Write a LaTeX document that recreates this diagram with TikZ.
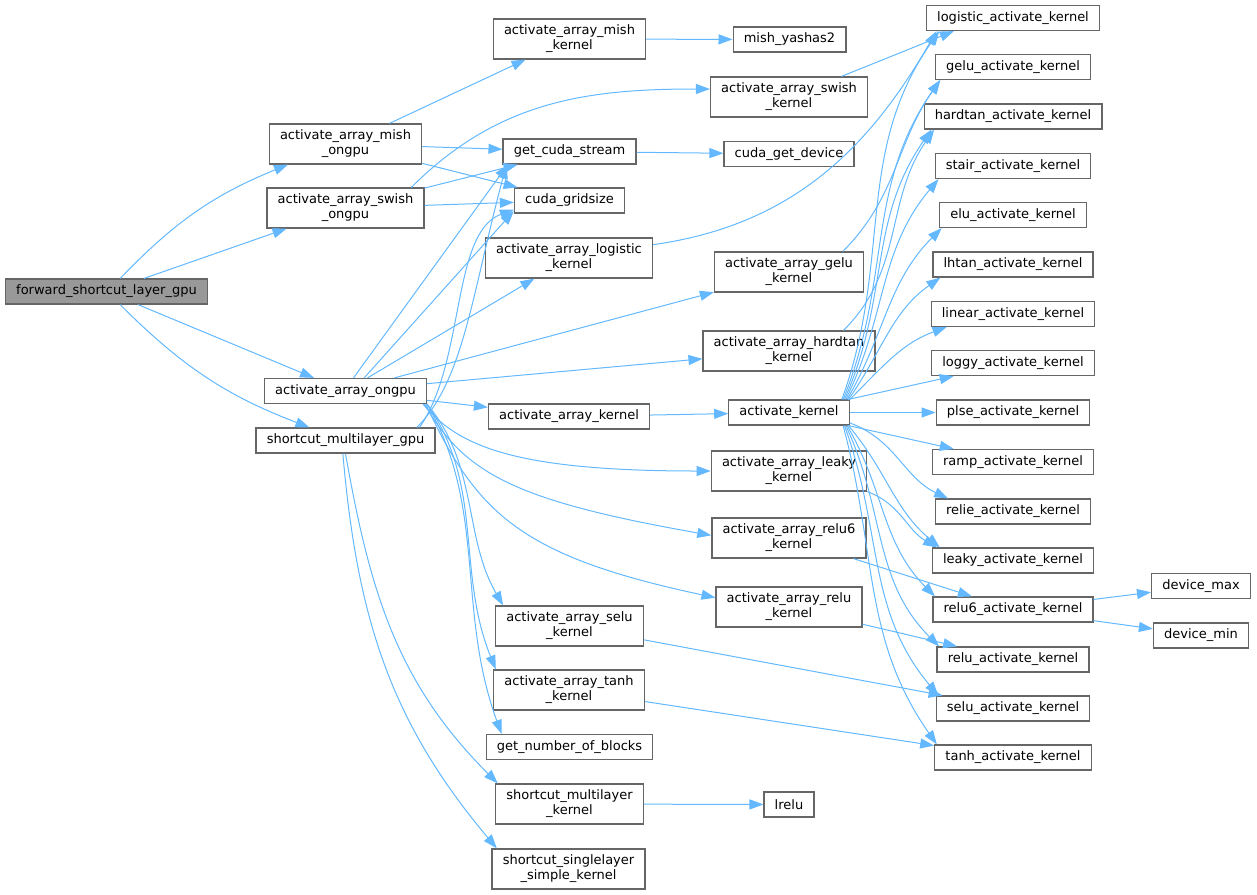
\documentclass[tikz,border=0pt]{standalone}
\usepackage{fontspec}
\setmainfont{DejaVu Sans}
\usepackage{tikz}
\usetikzlibrary{positioning, arrows.meta}
\definecolor{edgeblue}{HTML}{63B8FF}
\definecolor{boxgray}{HTML}{666666}
\definecolor{rootgray}{HTML}{999999}
\tikzstyle{call} = [->, >={Triangle[length=10.5pt,width=7.5pt]}, draw=edgeblue, line width=0.75pt]

\begin{document}
\begin{tikzpicture}[x=0.75pt,y=-0.75pt]
        \tikzstyle{every node}=[font=\fontsize{9.75}{11.25}\selectfont]
        \tikzstyle{func} = [rectangle, draw=boxgray, fill=white, line width=0.9pt, inner xsep=8pt, inner ysep=0pt, minimum height=18.75pt, align=center]
        \tikzstyle{functwo} = [func, minimum height=30pt]
        \tikzstyle{root} = [func, fill=rootgray]

        \useasboundingbox (0,0) rectangle (1257,894);

        % caller
        \node[root](fwd) at (106.5,291.5) {forward\_shortcut\_layer\_gpu};

        % second column
        \node[functwo](mishon) at (345.5,144) {activate\_array\_mish\\\_ongpu};
        \node[functwo](swishon) at (345.5,208) {activate\_array\_swish\\\_ongpu};
        \node[func](aon) at (345.5,391) {activate\_array\_ongpu};
        \node[func](smgpu) at (345.5,440.5) {shortcut\_multilayer\_gpu};

        % third column
        \node[functwo](mishk) at (569.5,39) {activate\_array\_mish\\\_kernel};
        \node[func](gcs) at (569.5,151.5) {get\_cuda\_stream};
        \node[func](cgs) at (569.5,200.5) {cuda\_gridsize};
        \node[functwo](logk) at (569,258) {activate\_array\_logistic\\\_kernel};
        \node[func](aak) at (569,416.5) {activate\_array\_kernel};
        \node[functwo](seluk) at (569.5,626) {activate\_array\_selu\\\_kernel};
        \node[functwo](tanhk) at (569,690) {activate\_array\_tanh\\\_kernel};
        \node[func](gnb) at (569.5,747) {get\_number\_of\_blocks};
        \node[functwo](smk) at (569.5,804) {shortcut\_multilayer\\\_kernel};
        \node[functwo](sslk) at (568.5,869) {shortcut\_singlelayer\\\_simple\_kernel};

        % fourth column
        \node[func](mishy) at (789.5,39.5) {mish\_yashas2};
        \node[functwo](swishk) at (789,97) {activate\_array\_swish\\\_kernel};
        \node[func](cgd) at (789,154) {cuda\_get\_device};
        \node[functwo](geluk) at (789,272) {activate\_array\_gelu\\\_kernel};
        \node[functwo](hardk) at (789,351) {activate\_array\_hardtan\\\_kernel};
        \node[func](ak) at (789,412.5) {activate\_kernel};
        \node[functwo](leakyk) at (789,471) {activate\_array\_leaky\\\_kernel};
        \node[functwo](relu6k) at (789,538) {activate\_array\_relu6\\\_kernel};
        \node[functwo](reluk) at (789,607) {activate\_array\_relu\\\_kernel};
        \node[func](lrelu) at (789,804.5) {lrelu};

        % activation kernels
        \node[func](logistic) at (1013,18) {logistic\_activate\_kernel};
        \node[func](gelu) at (1013,67) {gelu\_activate\_kernel};
        \node[func](hardtan) at (1013,116.5) {hardtan\_activate\_kernel};
        \node[func](stair) at (1013,166) {stair\_activate\_kernel};
        \node[func](elu) at (1013,215) {elu\_activate\_kernel};
        \node[func](lhtan) at (1013,264.5) {lhtan\_activate\_kernel};
        \node[func](linear) at (1013,314) {linear\_activate\_kernel};
        \node[func](loggy) at (1013,363) {loggy\_activate\_kernel};
        \node[func](plse) at (1013,412.5) {plse\_activate\_kernel};
        \node[func](ramp) at (1013,462) {ramp\_activate\_kernel};
        \node[func](relie) at (1013,511.5) {relie\_activate\_kernel};
        \node[func](leaky) at (1013,560.5) {leaky\_activate\_kernel};
        \node[func](relu6) at (1013,609.5) {relu6\_activate\_kernel};
        \node[func](relu) at (1013,659.5) {relu\_activate\_kernel};
        \node[func](selu) at (1013,708.5) {selu\_activate\_kernel};
        \node[func](tanh) at (1013,757.5) {tanh\_activate\_kernel};

        % device helpers
        \node[func](dmax) at (1201,586) {device\_max};
        \node[func](dmin) at (1201,635.5) {device\_min};

        % calls of forward_shortcut_layer_gpu
        \draw[call] (fwd) to[bend left=12] (mishon);
        \draw[call] (fwd) -- (swishon);
        \draw[call] (fwd) -- (aon);
        \draw[call] (fwd) to[bend right=12] (smgpu);

        % calls of the ongpu functions
        \draw[call] (mishon) -- (mishk);
        \draw[call] (mishon) -- (gcs);
        \draw[call] (mishon) -- (cgs);
        \draw[call] ([xshift=-10pt]swishon.north east) to[out=45,in=180] ([yshift=6pt]swishk.west);
        \draw[call] (swishon) -- (gcs);
        \draw[call] (swishon) -- (cgs);

        \draw[call] ([xshift=6pt]aon.north) -- ([xshift=4pt]gcs.south west);
        \draw[call] ([xshift=14pt]aon.north) -- ([yshift=2pt]cgs.south west);
        \draw[call] (aon) -- (logk);
        \draw[call] (aon) -- (geluk);
        \draw[call] (aon) -- (hardk);
        \draw[call] (aon) -- (aak);
        \draw[call] ([xshift=-3pt]aon.south east) .. controls +(-50:40pt) and +(180:150pt) .. (leakyk.west);
        \draw[call] ([xshift=-2pt]aon.south east) .. controls +(-60:60pt) and +(170:150pt) .. ([yshift=2pt]relu6k.west);
        \draw[call] ([xshift=-1pt]aon.south east) .. controls +(-65:90pt) and +(168:150pt) .. ([yshift=7pt]reluk.west);
        \draw[call] (aon.south east) .. controls +(-50:60pt) and +(120:60pt) .. ([xshift=6pt]seluk.north west);
        \draw[call] (aon.south east) .. controls +(-55:75pt) and +(112:80pt) .. ([xshift=2pt]tanhk.north west);
        \draw[call] (aon.south east) .. controls +(-60:90pt) and +(110:100pt) .. ([xshift=12pt]gnb.north west);

        \draw[call] ([xshift=-14pt]smgpu.north east) .. controls +(45:50pt) and +(255:100pt) .. ([xshift=3pt]gcs.south west);
        \draw[call] ([xshift=-12pt]smgpu.north east) .. controls +(55:60pt) and +(200:50pt) .. ([yshift=3pt]cgs.south west);
        \draw[call] (smgpu.south) to[out=-80,in=135] ([xshift=2pt]smk.north west);
        \draw[call] ([xshift=-2pt]smgpu.south) to[out=-85,in=130] ([xshift=4pt]sslk.north west);

        % calls of the kernels
        \draw[call] (mishk) -- (mishy);
        \draw[call] (gcs) -- (cgd);
        \draw[call] ([xshift=-20pt]swishk.north east) -- ([xshift=21pt]logistic.south west);
        \draw[call] ([yshift=10pt]logk.east) to[out=8,in=240] ([xshift=8pt]logistic.south west);
        \draw[call] ([xshift=-16pt]geluk.north east) to[out=45,in=235] ([xshift=4pt]gelu.south west);
        \draw[call] ([xshift=-24pt]hardk.north east) to[out=45,in=235] ([xshift=8pt]hardtan.south west);
        \draw[call] (aak) -- (ak);
        \draw[call] (leakyk.south east) to[out=-20,in=150] ([xshift=4pt]leaky.north west);
        \draw[call] (relu6k) -- (relu6);
        \draw[call] (reluk) -- (relu);
        \draw[call] (seluk) -- (selu);
        \draw[call] (tanhk) -- (tanh);
        \draw[call] (smk) -- (lrelu);

        % activate_kernel fan out
        \draw[call] ([xshift=-6pt]ak.north east) to[out=70,in=235] ([xshift=10pt]logistic.south west);
        \draw[call] ([xshift=-5pt]ak.north east) to[out=68,in=235] ([xshift=4pt]gelu.south west);
        \draw[call] ([xshift=-4pt]ak.north east) to[out=66,in=235] ([xshift=6pt]hardtan.south west);
        \draw[call] ([xshift=-3pt]ak.north east) to[out=64,in=230] ([xshift=3pt]stair.south west);
        \draw[call] ([xshift=-2pt]ak.north east) to[out=60,in=225] ([xshift=2pt]elu.south west);
        \draw[call] ([xshift=-1pt]ak.north east) to[out=55,in=215] ([xshift=6pt]lhtan.south west);
        \draw[call] (ak.north east) to[out=45,in=200] ([xshift=12pt]linear.south west);
        \draw[call] (ak) -- (loggy);
        \draw[call] (ak) -- (plse);
        \draw[call] (ak) -- (ramp);
        \draw[call] ([yshift=2pt]ak.south east) to[out=-20,in=155] ([xshift=10pt]relie.north west);
        \draw[call] ([xshift=-1pt]ak.south east) to[out=-50,in=140] ([xshift=6pt]leaky.north west);
        \draw[call] ([xshift=-2pt]ak.south east) to[out=-60,in=135] ([xshift=2pt]relu6.north west);
        \draw[call] ([xshift=-3pt]ak.south east) to[out=-65,in=135] ([xshift=2pt]relu.north west);
        \draw[call] ([xshift=-4pt]ak.south east) to[out=-70,in=130] ([xshift=2pt]selu.north west);
        \draw[call] ([xshift=-5pt]ak.south east) to[out=-75,in=125] ([xshift=2pt]tanh.north west);

        % relu6 helpers
        \draw[call] (relu6) -- (dmax);
        \draw[call] (relu6) -- (dmin);
\end{tikzpicture}
\end{document}
